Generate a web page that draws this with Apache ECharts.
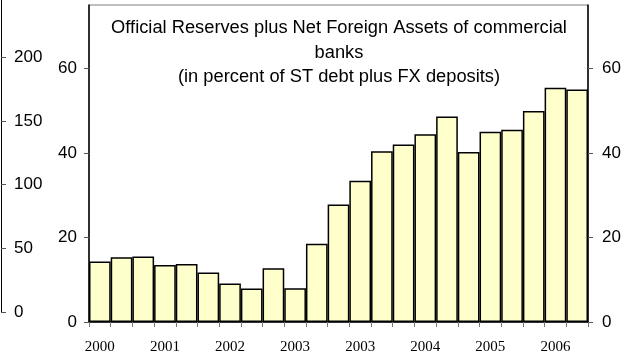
<!DOCTYPE html>
<html>
<head>
<meta charset="utf-8">
<script src="https://cdn.jsdelivr.net/npm/echarts@6/dist/echarts.min.js"></script>
<style>
  html, body { margin: 0; padding: 0; background: #fff; }
  #chart { width: 631px; height: 358px; }
</style>
</head>
<body>
<div id="chart"></div>
<script>
// Reserves coverage ratio, one bar per period (percent of ST debt plus FX deposits)
const periods = ['P01','P02','P03','P04','P05','P06','P07','P08','P09','P10','P11','P12',
                 'P13','P14','P15','P16','P17','P18','P19','P20','P21','P22','P23'];
const periodLabels = ['2000','','','2001','','','2002','','','2003','','',
                      '2003','','','2004','','','2005','','','2006',''];
const coverage = [14.3, 15.3, 15.5, 13.5, 13.7, 11.7, 9.1, 7.9, 12.7, 8.0, 18.5, 27.8,
                  33.4, 40.4, 42.0, 44.4, 48.6, 40.2, 45.0, 45.5, 49.9, 55.4, 55.0];
const pctTicks = [0, 20, 40, 60];
const outerTicks = [0, 50, 100, 150, 200];
const titleLines = [
  'Official Reserves plus Net Foreign Assets of commercial',
  'banks',
  '(in percent of ST debt plus FX deposits)'
];

const chart = echarts.init(document.getElementById('chart'), null, { renderer: 'canvas' });

const sans = 'Liberation Sans, Arial, sans-serif';
const serif = 'Liberation Serif, Times New Roman, serif';

const pctAxisBase = {
  type: 'value',
  gridIndex: 0,
  min: pctTicks[0],
  max: 75,
  interval: pctTicks[1] - pctTicks[0],
  splitLine: { show: false },
  axisLine: { show: true, lineStyle: { color: '#000', width: 1.5 } },
  axisTick: { show: true, length: 5, customValues: pctTicks, lineStyle: { color: '#555', width: 1 } },
  axisLabel: {
    color: '#000', fontFamily: sans, fontSize: 17,
    customValues: pctTicks
  }
};

chart.setOption({
  animation: false,
  backgroundColor: '#fff',
  graphic: [{
    type: 'text',
    x: 339,
    y: 16,
    style: {
      text: titleLines.join('\n'),
      font: '18.3px ' + sans,
      fill: '#000',
      textAlign: 'center',
      textVerticalAlign: 'top',
      lineHeight: 24.5
    },
    z: 10
  }],
  grid: [
    { left: 89, right: 43, top: 5, bottom: 36, show: true, borderColor: '#808080', borderWidth: 1 },
    { left: 1, width: 1, top: 0, bottom: 46, show: false }
  ],
  xAxis: [
    {
      type: 'category',
      gridIndex: 0,
      data: periods,
      boundaryGap: true,
      axisLine: { show: true, lineStyle: { color: '#000', width: 1.5 } },
      axisTick: { show: true, interval: 0, length: 5, lineStyle: { color: '#777', width: 1 } },
      axisLabel: {
        interval: 0,
        margin: 18,
        color: '#000',
        fontFamily: serif,
        fontSize: 15,
        formatter: (v, i) => periodLabels[i]
      }
    },
    { type: 'category', gridIndex: 1, data: ['x'], show: false }
  ],
  yAxis: [
    Object.assign({}, pctAxisBase, { position: 'left', axisLabel: Object.assign({}, pctAxisBase.axisLabel, { margin: 12 }) }),
    Object.assign({}, pctAxisBase, { position: 'right', axisLabel: Object.assign({}, pctAxisBase.axisLabel, { margin: 14 }) }),
    {
      type: 'value',
      gridIndex: 1,
      position: 'left',
      min: outerTicks[0],
      max: 245,
      interval: outerTicks[1] - outerTicks[0],
      splitLine: { show: false },
      axisLine: { show: true, lineStyle: { color: '#000', width: 1 } },
      axisTick: { show: true, inside: true, length: 5, customValues: outerTicks, lineStyle: { color: '#555', width: 1 } },
      axisLabel: {
        inside: true, margin: 13, color: '#000', fontFamily: sans, fontSize: 17,
        customValues: outerTicks
      }
    }
  ],
  series: [{
    type: 'bar',
    xAxisIndex: 0,
    yAxisIndex: 0,
    data: coverage,
    barCategoryGap: '0%',
    itemStyle: { color: '#FFFFCC', borderColor: '#000', borderWidth: 1.5 }
  }]
});
</script>
</body>
</html>
